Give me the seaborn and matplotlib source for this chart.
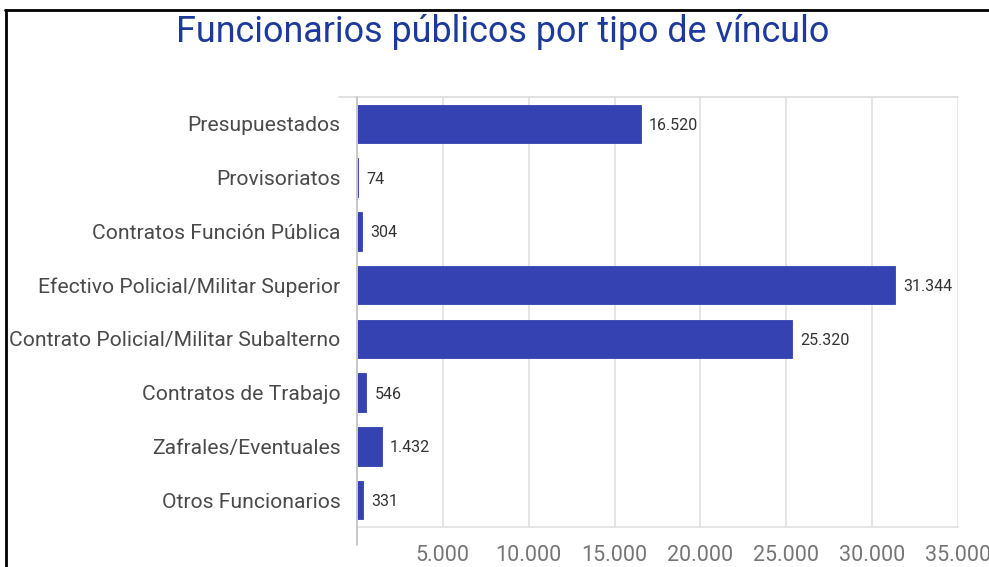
import matplotlib
matplotlib.use("Agg")
import matplotlib.pyplot as plt
from matplotlib.lines import Line2D
import pandas as pd
import seaborn as sns


# ___ Data ___

categories = [
    "Presupuestados",
    "Provisoriatos",
    "Contratos Función Pública",
    "Efectivo Policial/Militar Superior",
    "Contrato Policial/Militar Subalterno",
    "Contratos de Trabajo",
    "Zafrales/Eventuales",
    "Otros Funcionarios",
]
values = [16520, 74, 304, 31344, 25320, 546, 1432, 331]
x_ticks = [5000, 10000, 15000, 20000, 25000, 30000, 35000]

title = "Funcionarios públicos por tipo de vínculo"
bar_color = "#3443b1"


def fmt(v):
    return f"{v:,}".replace(",", ".")


# ___ Plot ___

sns.set_theme(style="white")
plt.rcParams["font.family"] = ["Roboto", "DejaVu Sans"]

df = pd.DataFrame({"categoria": categories, "valor": values})

W, H = 989, 567
fig = plt.figure(figsize=(W / 100, H / 100), dpi=100)
ax = fig.add_axes([357 / W, 1 - 527 / H, 601 / W, 430 / H])

sns.barplot(data=df, x="valor", y="categoria", orient="h", color=bar_color,
            width=0.72, saturation=1, edgecolor=bar_color, linewidth=0.6, ax=ax)

ax.set_xlim(0, 35000)
ax.set_ylim(len(categories) - 0.5, -0.5)
ax.set_xlabel("")
ax.set_ylabel("")

ax.set_xticks(x_ticks)
ax.set_xticklabels([fmt(t) for t in x_ticks])
ax.tick_params(axis="x", length=0, pad=13, labelsize=15.5, labelcolor="#757575")
ax.tick_params(axis="y", length=0, pad=12, labelsize=15.2, labelcolor="#4a4a4a")

for s in ["top", "right", "left"]:
    ax.spines[s].set_visible(False)
ax.spines["bottom"].set_color("#e0e0e0")
ax.spines["bottom"].set_linewidth(1.2)

ax.grid(axis="x", color="#e0e0e0", linewidth=1.2)
ax.set_axisbelow(True)

# top line reaches a bit left, zero line runs down past the bottom
ax.plot([-18 / 601, 1], [1, 1], transform=ax.transAxes, color="#dcdcdc",
        linewidth=1.2, clip_on=False)
ax.plot([0, 0], [-18 / 430, 1], transform=ax.transAxes, color="#c8c8c8",
        linewidth=1.4, clip_on=False, zorder=3)

for i, v in enumerate(values):
    ax.annotate(fmt(v), xy=(v, i), xytext=(6, -1), textcoords="offset points",
                va="center", ha="left", fontsize=11.5, color="#333333")

fig.text(503 / W, 1 - 32 / H, title, ha="center", va="center",
         fontsize=25.8, color="#1c3a9c")

# screenshot frame
fig.add_artist(Line2D([5 / W, 1], [1 - 10 / H, 1 - 10 / H], color="black",
                      linewidth=2, transform=fig.transFigure))
fig.add_artist(Line2D([6 / W, 6 / W], [0, 1 - 10 / H], color="black",
                      linewidth=2, transform=fig.transFigure))

fig.savefig("out.png", dpi=100)
